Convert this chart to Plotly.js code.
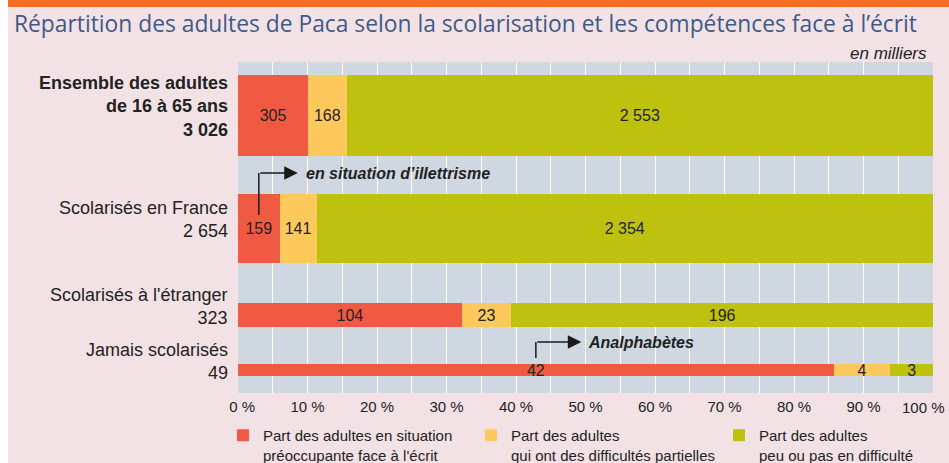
<!DOCTYPE html>
<html><head><meta charset="utf-8">
<script src="https://cdn.plot.ly/plotly-3.0.1.min.js"></script>
<style>
html,body{margin:0;padding:0;background:#fff;overflow:hidden;}
#chart{position:absolute;left:8px;top:0;width:941px;height:456px;border-top:7px solid #f47021;background:#f3e2e5;}
</style></head><body><div id="chart"></div>
<script>
// ---- data ----
const categories = ['Ensemble des adultes<br>de 16 à 65 ans', 'Scolarisés en France', "Scolarisés à l'étranger", 'Jamais scolarisés'];
const preoccupante = [305, 159, 104, 42];
const partielles = [168, 141, 23, 4];
const peuOuPas = [2553, 2354, 196, 3];
const seriesNames = [
  "Part des adultes en situation<br>préoccupante face à l'écrit",
  "Part des adultes<br>qui ont des difficultés partielles",
  "Part des adultes<br>peu ou pas en difficulté"
];
const xTickValues = [0, 10, 20, 30, 40, 50, 60, 70, 80, 90, 100];
const xTickLabels = ['0 %', '10 %', '20 %', '30 %', '40 %', '50 %', '60 %', '70 %', '80 %', '90 %', '100 %'];

// ---- layout constants (positions / sizes / styles) ----
const FIG_W = 941, FIG_H = 456;
const M = {l: 230, r: 16, t: 55, b: 70};
const PLOT_W = FIG_W - M.l - M.r, PLOT_H = FIG_H - M.t - M.b;
const rowCenter = [53.5, 166.5, 253, 308];
const rowThickness = [81, 69, 24, 12];
const colors = ['#f15a42', '#fec95c', '#bfc10f'];
const txtColor = '#222222';
const baseFont = 'Liberation Sans, Arial, sans-serif';
const NB = '\u00a0';

const fmt = n => String(n).replace(/\B(?=(\d{3})+(?!\d))/g, ' ');
const totals = preoccupante.map((v, i) => v + partielles[i] + peuOuPas[i]);
const series = [preoccupante, partielles, peuOuPas];

const traces = series.map((vals, s) => ({
  type: 'bar', orientation: 'h', name: seriesNames[s],
  x: vals.map((v, i) => v / totals[i] * 100),
  y: rowCenter, width: rowThickness,
  text: vals.map(fmt), textposition: 'inside', insidetextanchor: 'middle',
  textangle: 0, constraintext: 'none',
  textfont: {family: baseFont, size: 16, color: txtColor},
  marker: {color: colors[s], line: {width: 0}},
  hoverinfo: 'skip', cliponaxis: false
}));

// axis draws 0 … 90 %; the last label (100 %) is right-aligned at the plot edge like the original
const lastIdx = xTickValues.length - 1;
const axisTickVals = xTickValues.slice(0, lastIdx);
const axisTickText = xTickLabels.slice(0, lastIdx).map((t, i) => i === 0 ? NB + NB + t : t);

const annotations = [];
annotations.push({xref: 'x', yref: 'paper', x: xTickValues[lastIdx], y: 0, xanchor: 'right', yanchor: 'middle',
  xshift: 14, yshift: -14, showarrow: false, text: xTickLabels[lastIdx],
  font: {family: baseFont, size: 15, color: txtColor}});
categories.forEach((c, i) => {
  let t = c + '<br>' + fmt(totals[i]);
  if (i === 0) t = '<b>' + c.split('<br>').join('</b><br><b>') + '</b><br><b>' + fmt(totals[i]) + '</b>';
  annotations.push({xref: 'paper', yref: 'y', x: 0, y: rowCenter[i], xanchor: 'right', yanchor: 'middle',
    xshift: -8, yshift: 9, align: 'right', showarrow: false, text: t,
    font: {family: baseFont, size: 18, color: txtColor}});
});
annotations.push({xref: 'paper', yref: 'paper', x: 1, y: 1, xanchor: 'right', yanchor: 'middle',
  xshift: -4, yshift: 9, showarrow: false, text: '<i>en milliers</i>',
  font: {family: baseFont, size: 17, color: txtColor}});

// callouts
const illPct = preoccupante[1] / totals[1] * 100;
const anaPct = preoccupante[3] / totals[3] * 100;
const callouts = [
  {x0: illPct / 2, yLow: 153, yElbow: 111, tip: 8.6, textX: 9.5, text: 'en situation d’illettrisme'},
  {x0: anaPct / 2, yLow: 296, yElbow: 280, tip: 49.4, textX: 50.1, text: 'Analphabètes'}
];
const shapes = [];
callouts.forEach(c => {
  shapes.push({type: 'line', xref: 'x', yref: 'y', x0: c.x0, x1: c.x0, y0: c.yLow, y1: c.yElbow,
    line: {color: '#1a1a1a', width: 1.5}});
  annotations.push({xref: 'x', yref: 'y', x: c.tip, y: c.yElbow, axref: 'x', ayref: 'y', ax: c.x0, ay: c.yElbow,
    text: '', showarrow: true, arrowhead: 2, arrowsize: 1.8, arrowwidth: 1.5, arrowcolor: '#1a1a1a', standoff: 0, startstandoff: 0});
  annotations.push({xref: 'x', yref: 'y', x: c.textX, y: c.yElbow, xanchor: 'left', yanchor: 'middle',
    showarrow: false, text: '<b><i>' + c.text + '</i></b>', font: {family: baseFont, size: 16, color: txtColor}});
});

const layout = {
  width: FIG_W, height: FIG_H,
  margin: {l: M.l, r: M.r, t: M.t, b: M.b, pad: 0, autoexpand: false},
  paper_bgcolor: '#f3e2e5', plot_bgcolor: '#cfd7e0',
  barmode: 'stack',
  title: {text: 'Répartition des adultes de Paca selon la scolarisation et les compétences face à l’écrit',
    font: {family: 'Open Sans, sans-serif', size: 22.8, color: '#3d5a8a'},
    xref: 'container', x: 6 / FIG_W, xanchor: 'left', yref: 'container', y: 1 - 17 / FIG_H, yanchor: 'middle'},
  xaxis: {range: [0, 100], tickvals: axisTickVals, ticktext: axisTickText, ticks: '',
    ticklabeloverflow: 'allow', ticklabelstandoff: 3,
    showgrid: true, gridcolor: '#ffffff', gridwidth: 1, zeroline: false, showline: false,
    minor: {dtick: 5, showgrid: true, gridcolor: '#ffffff', gridwidth: 1},
    tickfont: {family: baseFont, size: 15, color: txtColor}, fixedrange: true},
  yaxis: {range: [331, 0], showticklabels: false, showgrid: false, zeroline: false, ticks: '', fixedrange: true},
  showlegend: true,
  legend: {orientation: 'h', xref: 'paper', yref: 'paper',
    x: (215 - M.l) / PLOT_W, y: (FIG_H - M.b - 412) / PLOT_H,
    xanchor: 'left', yanchor: 'top', entrywidth: 203, entrywidthmode: 'pixels', valign: 'top',
    bgcolor: 'rgba(0,0,0,0)', font: {family: baseFont, size: 15, color: txtColor}, traceorder: 'normal'},
  annotations: annotations, shapes: shapes
};

Plotly.newPlot('chart', traces, layout, {displayModeBar: false, staticPlot: true});
</script></body></html>
